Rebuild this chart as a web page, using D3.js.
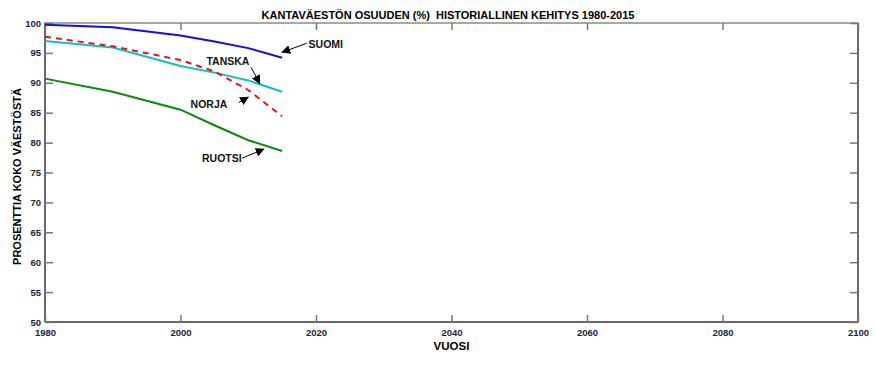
<!DOCTYPE html>
<html>
<head>
<meta charset="utf-8">
<script src="https://cdn.jsdelivr.net/npm/d3@7"></script>
<style>
  body { margin: 0; background: #fff; }
  text { font-family: Arial, "Liberation Sans", sans-serif; font-weight: bold; }
</style>
</head>
<body>
<div id="chart"></div>
<script>
// data
var years = [1980, 1990, 2000, 2005, 2010, 2015];
var suomi  = [99.7, 99.3, 97.9, 96.9, 95.8, 94.2];
var tanska = [97.0, 95.9, 92.8, 91.7, 90.4, 88.5];
var norja  = [97.7, 96.1, 93.8, 91.9, 88.8, 84.4];
var ruotsi = [90.7, 88.5, 85.5, 82.9, 80.4, 78.6];
var xTicks = [1980, 2000, 2020, 2040, 2060, 2080, 2100];
var yTicks = [50, 55, 60, 65, 70, 75, 80, 85, 90, 95, 100];

var width = 875, height = 368;
var margin = {top: 23, right: 17, bottom: 46, left: 45};

var svg = d3.select("#chart").append("svg")
    .attr("width", width)
    .attr("height", height);

var x = d3.scaleLinear().domain([1980, 2100]).range([margin.left, width - margin.right]);
var y = d3.scaleLinear().domain([50, 100]).range([height - margin.bottom, margin.top]);

// frame
svg.append("rect")
    .attr("x", x(1980)).attr("y", y(100))
    .attr("width", x(2100) - x(1980)).attr("height", y(50) - y(100))
    .attr("fill", "none").attr("stroke", "#8a8a8a").attr("stroke-width", 1.5);
svg.append("line")
    .attr("x1", x(1980)).attr("x2", x(2100)).attr("y1", y(50)).attr("y2", y(50))
    .attr("stroke", "#555").attr("stroke-width", 1.5);
svg.append("line")
    .attr("x1", x(1980)).attr("x2", x(1980)).attr("y1", y(50)).attr("y2", y(100))
    .attr("stroke", "#555").attr("stroke-width", 1.5);
svg.append("line")
    .attr("x1", x(2100)).attr("x2", x(2100)).attr("y1", y(50)).attr("y2", y(100))
    .attr("stroke", "#555").attr("stroke-width", 1.5);

// axes with inward ticks
var tickColor = "#777";
var labelColor = "#1c2438";

var xb = svg.append("g").attr("transform", "translate(0," + y(50) + ")")
    .call(d3.axisBottom(x).tickValues(xTicks).tickSize(-7).tickFormat(d3.format("d")).tickPadding(7));
var xt = svg.append("g").attr("transform", "translate(0," + y(100) + ")")
    .call(d3.axisTop(x).tickValues(xTicks).tickSize(-7).tickFormat(""));
var yl = svg.append("g").attr("transform", "translate(" + x(1980) + ",0)")
    .call(d3.axisLeft(y).tickValues(yTicks).tickSize(-8).tickPadding(4));
var yr = svg.append("g").attr("transform", "translate(" + x(2100) + ",0)")
    .call(d3.axisRight(y).tickValues(yTicks).tickSize(-8).tickFormat(""));

[xb, xt, yl, yr].forEach(function(g) {
    g.select(".domain").remove();
    g.selectAll(".tick line").attr("stroke", tickColor).attr("stroke-width", 1.5);
    g.selectAll(".tick text")
        .attr("fill", labelColor)
        .style("font-size", "9.5px")
        .style("font-weight", "bold")
        .style("font-family", "Arial, 'Liberation Sans', sans-serif");
});

// series lines
var line = d3.line()
    .x(function(d) { return x(d[0]); })
    .y(function(d) { return y(d[1]); });

function pairs(vals) { return years.map(function(yr, i) { return [yr, vals[i]]; }); }

var series = [
    {name: "RUOTSI", values: ruotsi, color: "#0b8a0b", dash: null},
    {name: "TANSKA", values: tanska, color: "#10c0c8", dash: null},
    {name: "NORJA",  values: norja,  color: "#f01010", dash: "6,5"},
    {name: "SUOMI",  values: suomi,  color: "#1010e0", dash: null}
];

svg.selectAll(".series")
    .data(series)
    .enter()
    .append("path")
    .attr("class", "series")
    .attr("d", function(d) { return line(pairs(d.values)); })
    .attr("fill", "none")
    .attr("stroke", function(d) { return d.color; })
    .attr("stroke-width", 2)
    .attr("stroke-dasharray", function(d) { return d.dash; });

// arrow marker
svg.append("defs").append("marker")
    .attr("id", "arrow")
    .attr("viewBox", "0 0 10 10")
    .attr("refX", 9).attr("refY", 5)
    .attr("markerWidth", 9).attr("markerHeight", 9)
    .attr("markerUnits", "userSpaceOnUse")
    .attr("orient", "auto")
    .append("path")
    .attr("d", "M0,0 L10,5 L0,10 Z")
    .attr("fill", "#000");

// annotations: label position and arrow in data coordinates
var notes = [
    {text: "SUOMI",  tx: 2018.9, ty: 95.9, ax0: 2018.6, ay0: 96.6, ax1: 2015.0, ay1: 95.1, anchor: "start"},
    {text: "TANSKA", tx: 2007.0, ty: 92.9, ax0: 2010.4, ay0: 92.6, ax1: 2011.7, ay1: 89.9, anchor: "middle"},
    {text: "NORJA",  tx: 2004.2, ty: 85.8, ax0: 2008.6, ay0: 86.7, ax1: 2010.0, ay1: 87.6, anchor: "middle"},
    {text: "RUOTSI", tx: 2006.1, ty: 76.7, ax0: 2009.1, ay0: 77.4, ax1: 2012.3, ay1: 78.9, anchor: "middle"}
];

svg.selectAll(".note-arrow")
    .data(notes)
    .enter()
    .append("line")
    .attr("class", "note-arrow")
    .attr("x1", function(d) { return x(d.ax0); })
    .attr("y1", function(d) { return y(d.ay0); })
    .attr("x2", function(d) { return x(d.ax1); })
    .attr("y2", function(d) { return y(d.ay1); })
    .attr("stroke", "#000")
    .attr("stroke-width", 1)
    .attr("marker-end", "url(#arrow)");

svg.selectAll(".note-text")
    .data(notes)
    .enter()
    .append("text")
    .attr("class", "note-text")
    .attr("x", function(d) { return x(d.tx); })
    .attr("y", function(d) { return y(d.ty); })
    .attr("text-anchor", function(d) { return d.anchor; })
    .attr("fill", "#111")
    .style("font-size", "10.5px")
    .text(function(d) { return d.text; });

// titles
svg.append("text")
    .attr("x", 448).attr("y", 19)
    .attr("text-anchor", "middle")
    .attr("fill", "#000")
    .style("font-size", "11px")
    .style("white-space", "pre")
    .text("KANTAVÄESTÖN OSUUDEN (%)  HISTORIALLINEN KEHITYS 1980-2015");

svg.append("text")
    .attr("x", (x(1980) + x(2100)) / 2).attr("y", 350)
    .attr("text-anchor", "middle")
    .attr("fill", "#000")
    .style("font-size", "11.5px")
    .text("VUOSI");

svg.append("text")
    .attr("transform", "translate(21," + (y(75) + 4) + ") rotate(-90)")
    .attr("text-anchor", "middle")
    .attr("fill", "#000")
    .style("font-size", "11px")
    .text("PROSENTTIA KOKO VÄESTÖSTÄ");
</script>
</body>
</html>
